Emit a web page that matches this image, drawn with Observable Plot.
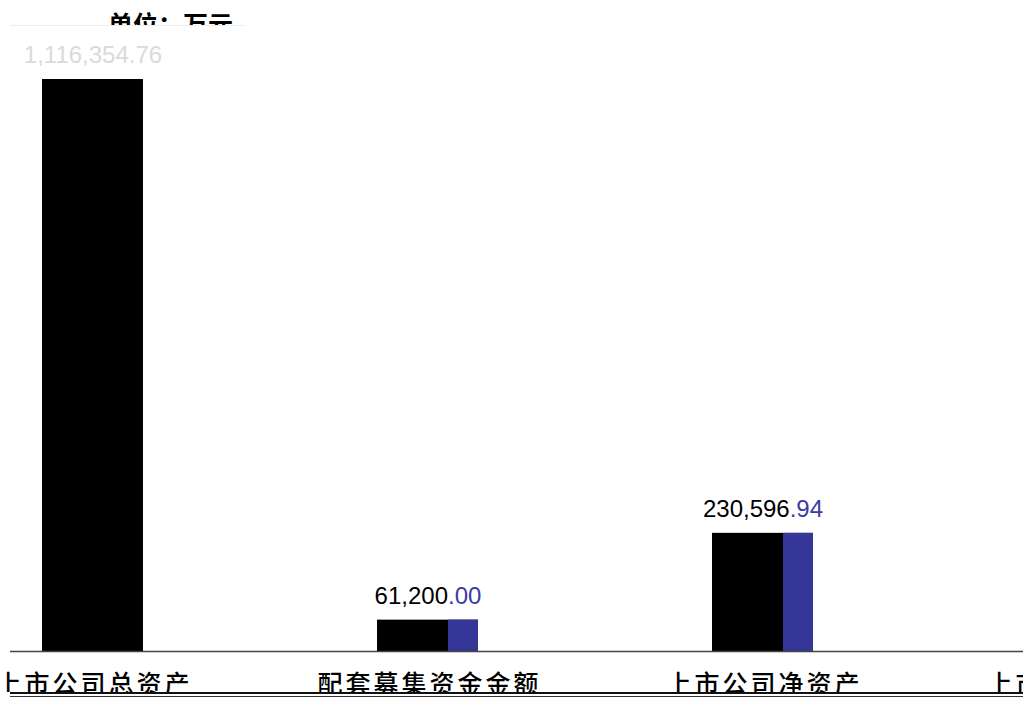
<!DOCTYPE html>
<html><head><meta charset="utf-8">
<script src="https://cdn.jsdelivr.net/npm/d3@7"></script>
<script src="https://cdn.jsdelivr.net/npm/@observablehq/plot@0.6"></script>
<style>
html,body{margin:0;padding:0;background:#fff;overflow:hidden}
#wrap{position:relative;width:1023px;height:702px;overflow:hidden}
#unit{position:absolute;left:10px;top:8px;width:235px;height:17px;overflow:hidden;border-bottom:1px solid #eee;
  font-family:"Noto Sans CJK SC";font-weight:700;font-size:25px;line-height:30px;color:#000;text-indent:98px;white-space:nowrap}
#under{position:absolute;left:0;top:692px;width:1023px;height:10px;background:#fff}
#under .l1{position:absolute;left:10px;top:0px;width:1013px;height:2px;background:#111}
#under .l2{position:absolute;left:10px;top:4px;width:1013px;height:1px;background:#333}
#chart{position:absolute;left:0;top:0}
</style></head>
<body><div id="wrap"><div id="chart"></div><div id="unit">单位：万元</div><div id="under"><div class="l1"></div><div class="l2"></div></div></div>
<script>
const categories = ["上市公司总资产", "配套募集资金金额", "上市公司净资产", "上市公司营业收入"];
const values = [1116354.76, 61200.00, 230596.94, 4000.00];
const blueValues = [null, 61200.00, 230596.94, 4000.00];

const fmt = d3.format(",.2f");
const table = categories.map((c, i) => ({cat: c, value: values[i], blue: blueValues[i], label: fmt(values[i]), i}));

const chart = Plot.plot({
  width: 1023,
  height: 702,
  marginLeft: 10,
  marginRight: 0,
  marginTop: 0,
  marginBottom: 51,
  style: {background: "#fff", fontFamily: "'Liberation Sans', Arial, sans-serif"},
  x: {domain: categories, type: "band", range: [-191.5, 1382.5], paddingInner: 0.6985, paddingOuter: 0.6985, axis: null},
  y: {domain: [0, 1116354.76], range: [651, 79], axis: null},
  marks: [
    Plot.barY(table, {x: "cat", y: "value", fill: "#000"}),
    Plot.barY(table.filter(d => d.blue != null), {x: "cat", y: "blue", fill: "#363598", insetLeft: 71}),
    Plot.ruleY([0], {stroke: "#444", strokeWidth: 1.5}),
    Plot.text(table.slice(0, 3), {x: "cat", y: "value", text: "label", dy: -24, fontSize: 24,
      fill: d => d.i === 0 ? "#dadada" : "#000"}),
    Plot.axisX({tickSize: 0, tickPadding: 24, fontSize: 25, fontFamily: "'Noto Sans CJK SC'", fontWeight: 500, fill: "#000", label: null})
  ]
});
document.getElementById("chart").appendChild(chart);

const catSet = new Set(categories);
const colourLabels = new Set(table.slice(1).map(d => d.label));
d3.select(chart).selectAll("text").each(function() {
  const el = d3.select(this);
  const t = el.text();
  if (catSet.has(t)) { el.attr("letter-spacing", "3px").attr("dx", "1.5px"); return; }
  if (!colourLabels.has(t)) return;
  const k = t.indexOf(".");
  el.text(null);
  el.append("tspan").text(t.slice(0, k));
  el.append("tspan").attr("fill", "#3b3aa8").text(t.slice(k));
});
</script></body></html>
